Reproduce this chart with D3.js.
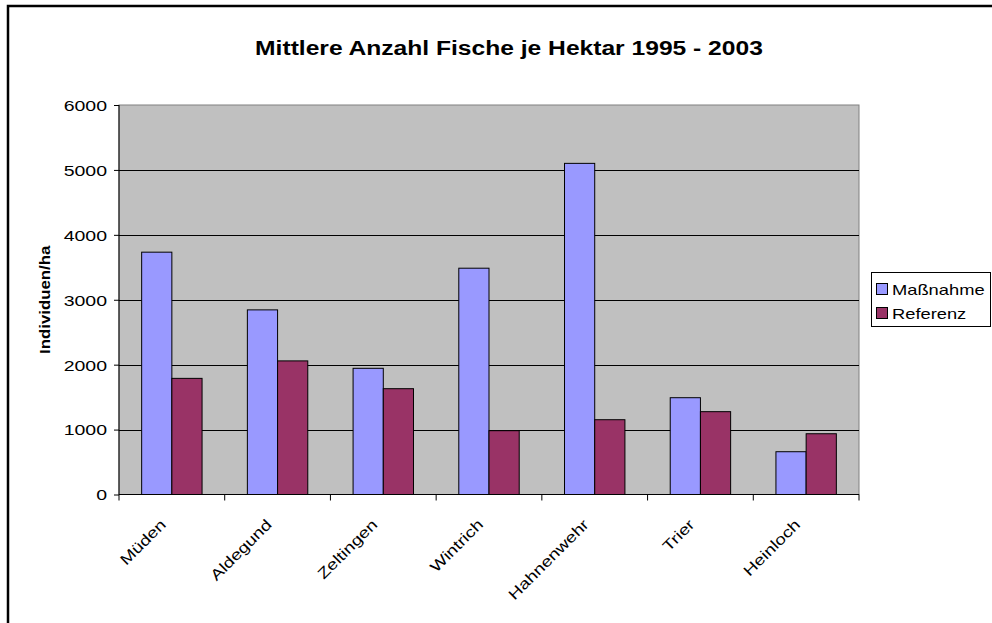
<!DOCTYPE html>
<html>
<head>
<meta charset="utf-8">
<title>Mittlere Anzahl Fische je Hektar 1995 - 2003</title>
<style>
* { margin: 0; padding: 0; }
body { background: #fff; width: 992px; height: 623px; overflow: hidden; }
svg { display: block; font-family: "Liberation Sans", Arial, sans-serif; }
</style>
</head>
<body>
<div id="chart"></div>
<script src="https://cdn.jsdelivr.net/npm/d3@7/dist/d3.min.js"></script>
<script>

var stations = [ 'Müden', 'Aldegund', 'Zeltingen', 'Wintrich', 'Hahnenwehr', 'Trier', 'Heinloch' ];
var massnahme = [ 3733, 2844, 1944, 3486, 5101, 1491, 659 ];
var referenz = [ 1789, 2058, 1630, 983, 1152, 1276, 936 ];
var seriesNames = [ 'Maßnahme', 'Referenz' ];
var seriesColors = [ '#9999ff', '#993366' ];
var yTicks = [ 0, 1000, 2000, 3000, 4000, 5000, 6000 ];

var width = 992, height = 623;
var plot = { left: 119, right: 859, top: 105, bottom: 494.5 };

// Excel renders its text wider than the font's own metrics
function widen( sel, f ) {
	sel.each( function () {
		var len = this.getComputedTextLength();
		d3.select( this )
			.attr( 'textLength', len * f )
			.attr( 'lengthAdjust', 'spacingAndGlyphs' );
	} );
}

var svg = d3.select( '#chart' ).append( 'svg' )
	.attr( 'width', width )
	.attr( 'height', height );

// outer chart frame (runs off the right and bottom edges)
svg.append( 'rect' )
	.attr( 'x', 8 ).attr( 'y', 6 )
	.attr( 'width', 1100 ).attr( 'height', 700 )
	.style( 'fill', 'none' )
	.style( 'stroke', '#000' )
	.style( 'stroke-width', 2.5 );

svg.append( 'text' )
	.attr( 'x', 509 ).attr( 'y', 55 )
	.attr( 'text-anchor', 'middle' )
	.style( 'font-size', '20px' )
	.style( 'font-weight', 'bold' )
	.text( 'Mittlere Anzahl Fische je Hektar 1995 - 2003' )
	.call( widen, 1.23 );

var x0 = d3.scaleBand().domain( stations ).range( [ plot.left, plot.right ] );
var barW = x0.bandwidth() / ( 2 + 1.5 );
var x1 = d3.scaleBand().domain( seriesNames )
	.range( [ barW * 0.75, barW * 2.75 ] );
var y = d3.scaleLinear().domain( [ 0, 6000 ] ).range( [ plot.bottom, plot.top ] );

svg.append( 'rect' )
	.attr( 'x', plot.left ).attr( 'y', plot.top )
	.attr( 'width', plot.right - plot.left )
	.attr( 'height', plot.bottom - plot.top )
	.style( 'fill', '#c0c0c0' )
	.style( 'stroke', '#808080' )
	.style( 'stroke-width', 1 );

// gridlines
svg.append( 'g' )
	.selectAll( 'line' )
	.data( yTicks.filter( function ( d ) { return d > 0 && d < 6000; } ) )
	.enter()
	.append( 'line' )
	.attr( 'x1', plot.left ).attr( 'x2', plot.right )
	.attr( 'y1', function ( d ) { return Math.round( y( d ) ) + 0.5; } )
	.attr( 'y2', function ( d ) { return Math.round( y( d ) ) + 0.5; } )
	.style( 'stroke', '#000' )
	.style( 'stroke-width', 1 );

var data = stations.map( function ( s, i ) {
	return { station: s, values: [ massnahme[i], referenz[i] ] };
} );

var groups = svg.append( 'g' )
	.selectAll( 'g' )
	.data( data )
	.enter()
	.append( 'g' )
	.attr( 'transform', function ( d ) { return 'translate(' + x0( d.station ) + ',0)'; } );

groups.selectAll( 'rect' )
	.data( function ( d ) {
		return d.values.map( function ( v, i ) { return { name: seriesNames[i], value: v, i: i }; } );
	} )
	.enter()
	.append( 'rect' )
	.attr( 'x', function ( d ) { return x1( d.name ); } )
	.attr( 'y', function ( d ) { return y( d.value ); } )
	.attr( 'width', x1.bandwidth() )
	.attr( 'height', function ( d ) { return y( 0 ) - y( d.value ); } )
	.style( 'fill', function ( d ) { return seriesColors[d.i]; } )
	.style( 'stroke', '#000' )
	.style( 'stroke-width', 1 );

// y axis
var yAxis = svg.append( 'g' )
	.attr( 'transform', 'translate(' + plot.left + ',0)' )
	.call( d3.axisLeft( y ).tickValues( yTicks ).tickFormat( d3.format( 'd' ) ).tickSize( 5 ).tickPadding( 7 ) );
yAxis.selectAll( 'text' )
	.attr( 'dy', '0.36em' )
	.style( 'font-size', '15px' )
	.style( 'fill', '#000' )
	.call( widen, 1.3 );
yAxis.select( '.domain' ).attr( 'd', 'M0,' + plot.top + 'V' + plot.bottom );

// x axis
var xAxis = svg.append( 'g' )
	.attr( 'transform', 'translate(0,' + plot.bottom + ')' );
xAxis.append( 'line' )
	.attr( 'x1', plot.left ).attr( 'x2', plot.right )
	.style( 'stroke', '#000' );
xAxis.selectAll( 'line.tick' )
	.data( stations.concat( [ null ] ) )
	.enter()
	.append( 'line' )
	.attr( 'class', 'tick' )
	.attr( 'x1', function ( d, i ) { return plot.left + i * x0.step(); } )
	.attr( 'x2', function ( d, i ) { return plot.left + i * x0.step(); } )
	.attr( 'y1', 0 ).attr( 'y2', 6 )
	.style( 'stroke', '#000' );
xAxis.selectAll( 'text' )
	.data( stations )
	.enter()
	.append( 'text' )
	.attr( 'text-anchor', 'end' )
	.attr( 'transform', function ( d ) {
		return 'translate(' + ( x0( d ) + x0.bandwidth() / 2 - 5 ) + ',31) rotate(-45)';
	} )
	.style( 'font-size', '15px' )
	.text( function ( d ) { return d; } )
	.call( widen, 1.25 );

// y axis title
svg.append( 'text' )
	.attr( 'transform', 'translate(50,' + ( ( plot.top + plot.bottom ) / 2 ) + ') rotate(-90)' )
	.attr( 'text-anchor', 'middle' )
	.style( 'font-size', '14px' )
	.style( 'font-weight', 'bold' )
	.text( 'Individuen/ha' )
	.call( widen, 1.2 );

// legend
var legend = svg.append( 'g' );
legend.append( 'rect' )
	.attr( 'x', 871.5 ).attr( 'y', 272.5 )
	.attr( 'width', 119 ).attr( 'height', 54 )
	.style( 'fill', '#fff' )
	.style( 'stroke', '#000' );
var items = legend.selectAll( 'g' )
	.data( seriesNames )
	.enter()
	.append( 'g' )
	.attr( 'transform', function ( d, i ) { return 'translate(876,' + ( 289 + i * 24 ) + ')'; } );
items.append( 'rect' )
	.attr( 'x', 0.5 ).attr( 'y', -5.5 )
	.attr( 'width', 11 ).attr( 'height', 11 )
	.style( 'fill', function ( d, i ) { return seriesColors[i]; } )
	.style( 'stroke', '#000' );
items.append( 'text' )
	.attr( 'x', 16 ).attr( 'y', 5.5 )
	.style( 'font-size', '15px' )
	.text( function ( d ) { return d; } )
	.call( widen, 1.22 );

</script>
</body>
</html>
